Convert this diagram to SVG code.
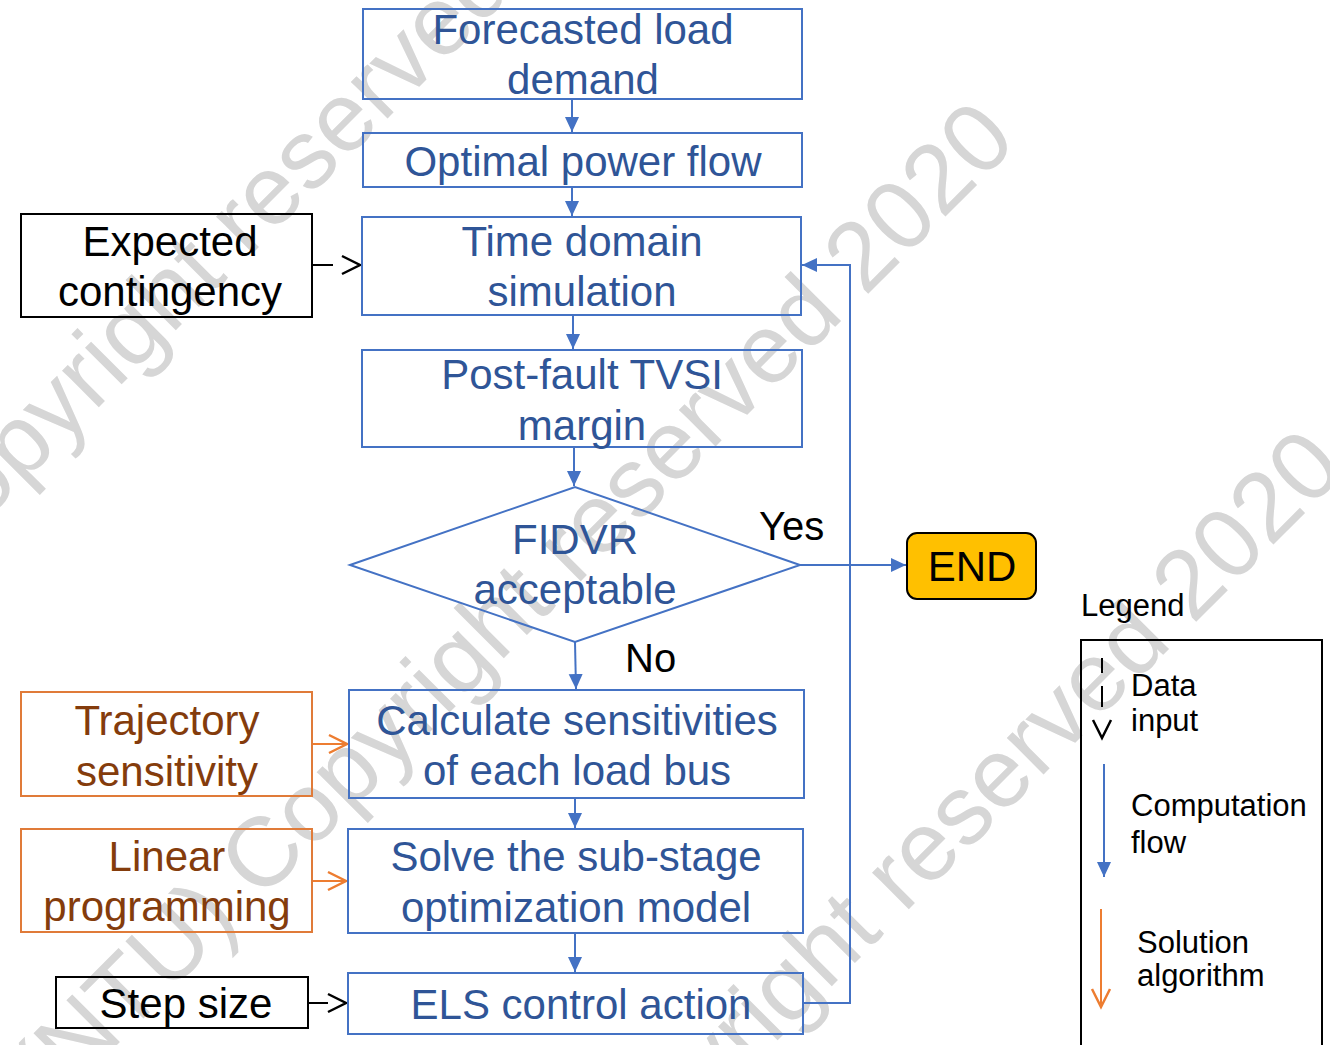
<svg xmlns="http://www.w3.org/2000/svg" width="1330" height="1045" viewBox="0 0 1330 1045">
  <defs>
    <style>
      text { font-family: "Liberation Sans", Arial, sans-serif; }
      .mark { font-size: 98px; fill: #d6d6d6; text-anchor: end; }
      .blue-box { fill: none; stroke: #4472C4; stroke-width: 2; }
      .orange-box { fill: none; stroke: #E07B39; stroke-width: 2; }
      .black-box { fill: none; stroke: #000; stroke-width: 2; }
      .t-blue { font-size: 42px; fill: #2F5597; text-anchor: middle; }
      .t-orange { font-size: 42px; fill: #843C0C; text-anchor: middle; }
      .t-black { font-size: 42px; fill: #000; text-anchor: middle; }
      .label { font-size: 40px; fill: #000; }
      .legend { font-size: 31px; fill: #000; }
      .flow { fill: none; stroke: #4472C4; stroke-width: 2; marker-end: url(#arrowBlue); }
      .data { fill: none; stroke: #000; stroke-width: 2; marker-end: url(#chevBlack); }
      .solve { fill: none; stroke: #ED7D31; stroke-width: 2; marker-end: url(#chevOrange); }
    </style>
    <marker id="arrowBlue" markerUnits="userSpaceOnUse" markerWidth="16" markerHeight="16" refX="15" refY="7" orient="auto">
      <path d="M0,0 L15,7 L0,14 z" fill="#4472C4"/>
    </marker>
    <marker id="chevBlack" markerUnits="userSpaceOnUse" markerWidth="24" markerHeight="24" refX="20" refY="11" orient="auto">
      <path d="M1,2 L19,11 L1,20" fill="none" stroke="#000" stroke-width="2.5"/>
    </marker>
    <marker id="chevOrange" markerUnits="userSpaceOnUse" markerWidth="24" markerHeight="24" refX="20" refY="11" orient="auto">
      <path d="M1,2 L19,11 L1,20" fill="none" stroke="#ED7D31" stroke-width="2.5"/>
    </marker>
  </defs>

  <rect width="1330" height="1045" fill="#fff"/>

  <!-- watermark, tiled diagonally -->
  <g id="watermark">
    <text class="mark" transform="translate(691,-185) rotate(-45)">(NTU) Copyright reserved 2020</text>
    <text class="mark" transform="translate(1019,143) rotate(-45)">(NTU) Copyright reserved 2020</text>
    <text class="mark" transform="translate(1347,471) rotate(-45)">(NTU) Copyright reserved 2020</text>
  </g>

  <!-- connectors -->
  <g id="connectors">
    <line class="flow" x1="572" y1="99" x2="572" y2="132"/>
    <line class="flow" x1="572" y1="187" x2="572" y2="216"/>
    <line class="flow" x1="573" y1="315" x2="573" y2="349"/>
    <line class="flow" x1="574" y1="447" x2="574" y2="486"/>
    <line class="flow" x1="575" y1="642" x2="576" y2="689"/>
    <line class="flow" x1="575" y1="798" x2="575" y2="828"/>
    <line class="flow" x1="575" y1="933" x2="575" y2="972"/>
    <polyline class="flow" points="803,1003 850,1003 850,265 802,265"/>
    <line class="flow" x1="800" y1="565" x2="906" y2="565"/>

    <line class="data" x1="313" y1="265" x2="361" y2="265" stroke-dasharray="20 40"/>
    <line class="data" x1="308" y1="1003" x2="347" y2="1003" stroke-dasharray="20 40"/>

    <line class="solve" x1="312" y1="744" x2="348" y2="744"/>
    <line class="solve" x1="312" y1="881" x2="347" y2="881"/>
  </g>

  <!-- main flow -->
  <g id="forecast">
    <rect class="blue-box" x="363" y="9" width="439" height="90"/>
    <text class="t-blue" x="583" y="44">Forecasted load</text>
    <text class="t-blue" x="583" y="94">demand</text>
  </g>
  <g id="opf">
    <rect class="blue-box" x="363" y="133" width="439" height="54"/>
    <text class="t-blue" x="583" y="176">Optimal power flow</text>
  </g>
  <g id="tds">
    <rect class="blue-box" x="362" y="217" width="439" height="98"/>
    <text class="t-blue" x="582" y="256">Time domain</text>
    <text class="t-blue" x="582" y="306">simulation</text>
  </g>
  <g id="tvsi">
    <rect class="blue-box" x="362" y="350" width="440" height="97"/>
    <text class="t-blue" x="582" y="389">Post-fault TVSI</text>
    <text class="t-blue" x="582" y="440">margin</text>
  </g>
  <g id="fidvr">
    <polygon class="blue-box" points="350,565 575,487 800,565 575,642"/>
    <text class="t-blue" x="575" y="554">FIDVR</text>
    <text class="t-blue" x="575" y="604">acceptable</text>
  </g>
  <g id="sensitivities">
    <rect class="blue-box" x="349" y="690" width="455" height="108"/>
    <text class="t-blue" x="577" y="735">Calculate sensitivities</text>
    <text class="t-blue" x="577" y="785">of each load bus</text>
  </g>
  <g id="substage">
    <rect class="blue-box" x="348" y="829" width="455" height="104"/>
    <text class="t-blue" x="576" y="871">Solve the sub-stage</text>
    <text class="t-blue" x="576" y="922">optimization model</text>
  </g>
  <g id="els">
    <rect class="blue-box" x="348" y="973" width="455" height="61"/>
    <text class="t-blue" x="581" y="1019">ELS control action</text>
  </g>
  <g id="end">
    <rect x="907" y="533" width="129" height="66" rx="10" fill="#FFC000" stroke="#000" stroke-width="2"/>
    <text class="t-black" x="972" y="581">END</text>
  </g>

  <!-- side inputs -->
  <g id="contingency">
    <rect class="black-box" x="21" y="214" width="291" height="103"/>
    <text class="t-black" x="170" y="256">Expected</text>
    <text class="t-black" x="170" y="306">contingency</text>
  </g>
  <g id="trajectory">
    <rect class="orange-box" x="21" y="692" width="291" height="104"/>
    <text class="t-orange" x="167" y="735">Trajectory</text>
    <text class="t-orange" x="167" y="786">sensitivity</text>
  </g>
  <g id="lp">
    <rect class="orange-box" x="21" y="829" width="291" height="103"/>
    <text class="t-orange" x="167" y="871">Linear</text>
    <text class="t-orange" x="167" y="921">programming</text>
  </g>
  <g id="stepsize">
    <rect class="black-box" x="56" y="977" width="252" height="51"/>
    <text class="t-black" x="186" y="1018">Step size</text>
  </g>

  <!-- branch labels -->
  <text class="label" x="759" y="540">Yes</text>
  <text class="label" x="625" y="672">No</text>

  <!-- legend -->
  <g id="legend">
    <text class="legend" x="1081" y="616">Legend</text>
    <rect class="black-box" x="1081" y="640" width="241" height="420" stroke-width="2.5"/>
    <line class="data" x1="1102" y1="658" x2="1102" y2="739" stroke-dasharray="15 13 21 40"/>
    <text class="legend" x="1131" y="696">Data</text>
    <text class="legend" x="1131" y="731">input</text>
    <line class="flow" x1="1104" y1="764" x2="1104" y2="877"/>
    <text class="legend" x="1131" y="816">Computation</text>
    <text class="legend" x="1131" y="853">flow</text>
    <line class="solve" x1="1101" y1="909" x2="1101" y2="1008"/>
    <text class="legend" x="1137" y="953">Solution</text>
    <text class="legend" x="1137" y="986">algorithm</text>
  </g>
</svg>
